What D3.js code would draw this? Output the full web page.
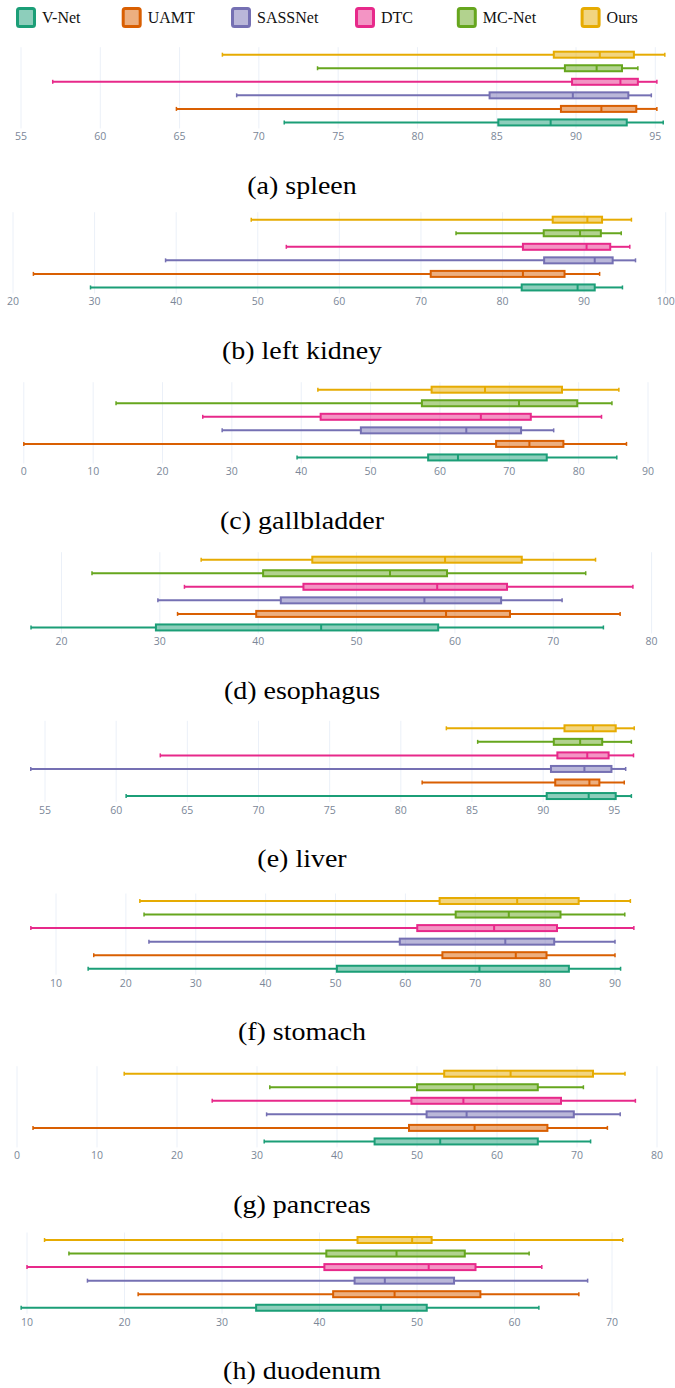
<!DOCTYPE html>
<meta charset="utf-8">
<script src="https://d3js.org/d3.v7.min.js"></script>
<style>
  body { margin: 0; background: #fff; }
  svg { display: block; }
</style>
<svg id="chart" width="675" height="1388"></svg>
<script>
// methods, bottom row first
var methods = ["V-Net", "UAMT", "SASSNet", "DTC", "MC-Net", "Ours"];
var colors = ["#1b9e77", "#d95f02", "#7570b3", "#e7298a", "#66a61e", "#e6ab02"];

var organs = ["spleen", "left kidney", "gallbladder", "esophagus", "liver", "stomach", "pancreas", "duodenum"];
var letters = ["a", "b", "c", "d", "e", "f", "g", "h"];

// [lower whisker, q1, median, q3, upper whisker] per method (V-Net .. Ours)
var spleen = [[71.6, 85.1, 88.4, 93.2, 95.5], [64.8, 89.05, 91.6, 93.8, 95.1], [68.6, 84.55, 89.8, 93.3, 94.75],
              [57.0, 89.75, 92.8, 93.9, 95.1], [73.7, 89.3, 91.3, 92.9, 93.9], [67.7, 88.6, 91.5, 93.65, 95.6]];
var leftKidney = [[29.5, 82.35, 89.2, 91.3, 94.7], [22.5, 71.2, 82.5, 87.6, 91.9], [38.7, 85.1, 91.3, 93.5, 96.3],
                  [53.5, 82.5, 90.3, 93.2, 95.6], [74.3, 85.05, 89.5, 92.05, 94.55], [49.2, 86.15, 90.4, 92.2, 95.8]];
var gallbladder = [[39.4, 58.3, 62.6, 75.4, 85.5], [0.0, 68.1, 72.9, 77.8, 86.9], [28.6, 48.6, 63.8, 71.7, 76.4],
                   [25.8, 42.8, 65.9, 73.1, 83.3], [13.3, 57.4, 71.4, 79.8, 84.8], [42.4, 58.8, 66.5, 77.6, 85.8]];
var esophagus = [[16.9, 29.6, 46.4, 58.3, 75.1], [31.8, 39.8, 59.1, 65.6, 76.8], [29.8, 42.3, 56.9, 64.7, 70.9],
                 [32.5, 44.6, 58.2, 65.3, 78.1], [23.1, 40.5, 53.4, 59.2, 73.3], [34.2, 45.5, 59.0, 66.8, 74.3]];
var liver = [[60.7, 90.25, 93.2, 95.1, 96.2], [81.5, 90.85, 93.25, 93.95, 95.7], [54.0, 90.55, 92.9, 94.8, 95.8],
             [63.1, 91.0, 93.1, 94.6, 96.35], [85.4, 90.75, 92.6, 94.15, 96.2], [83.2, 91.5, 93.5, 95.1, 96.4]];
var stomach = [[14.6, 50.2, 70.6, 83.4, 90.8], [15.4, 65.3, 75.8, 80.2, 90.0], [23.3, 59.2, 74.3, 81.3, 90.0],
               [6.4, 61.7, 72.7, 81.7, 92.7], [22.6, 67.2, 74.8, 82.2, 91.4], [22.0, 64.9, 76.0, 84.8, 92.2]];
var pancreas = [[30.9, 44.7, 52.9, 65.1, 71.7], [2.0, 49.0, 57.2, 66.3, 73.8], [31.2, 51.2, 56.2, 69.6, 75.4],
                [24.4, 49.3, 55.8, 68.0, 77.3], [31.6, 50.0, 57.1, 65.1, 70.8], [13.4, 53.4, 61.7, 72.0, 76.0]];
var duodenum = [[9.4, 33.5, 46.3, 51.0, 62.5], [21.4, 41.4, 47.7, 56.5, 66.6], [16.2, 43.6, 46.7, 53.8, 67.5],
                [10.0, 40.5, 51.2, 56.0, 62.8], [14.3, 40.7, 47.9, 54.9, 61.5], [11.8, 43.9, 49.5, 51.5, 71.1]];

var spleenTicks = [55, 60, 65, 70, 75, 80, 85, 90, 95];
var leftKidneyTicks = [20, 30, 40, 50, 60, 70, 80, 90, 100];
var gallbladderTicks = [0, 10, 20, 30, 40, 50, 60, 70, 80, 90];
var esophagusTicks = [20, 30, 40, 50, 60, 70, 80];
var liverTicks = [55, 60, 65, 70, 75, 80, 85, 90, 95];
var stomachTicks = [10, 20, 30, 40, 50, 60, 70, 80, 90];
var pancreasTicks = [0, 10, 20, 30, 40, 50, 60, 70, 80];
var duodenumTicks = [10, 20, 30, 40, 50, 60, 70];

var panelData = [spleen, leftKidney, gallbladder, esophagus, liver, stomach, pancreas, duodenum];
var panelTicks = [spleenTicks, leftKidneyTicks, gallbladderTicks, esophagusTicks, liverTicks, stomachTicks, pancreasTicks, duodenumTicks];

// layout: y of top row per panel, pixel span of first/last tick
var panelTop = [54.7, 219.7, 389.7, 559.7, 728.3, 901, 1073.7, 1240];
var axisPx = [[21, 655.3], [13, 665.7], [23.8, 648], [61.5, 651.6], [45, 614.3], [56, 615], [17, 657], [27, 612]];
var rowGap = 13.55;
var boxH = 6;

var svg = d3.select("#chart");

// legend
var legendX = [16, 121.7, 231, 355, 456.8, 580.6];
var legend = svg.append("g");
methods.forEach(function(m, i) {
  var g = legend.append("g").attr("transform", "translate(" + legendX[i] + ",7)");
  g.append("rect")
    .attr("x", 1.5).attr("y", 1.5)
    .attr("width", 17).attr("height", 18)
    .attr("rx", 2)
    .attr("fill", colors[i]).attr("fill-opacity", 0.5)
    .attr("stroke", colors[i]).attr("stroke-width", 3);
  g.append("text")
    .attr("x", 26).attr("y", 15.5)
    .attr("font-family", "Liberation Serif")
    .attr("font-size", 16)
    .attr("fill", "#111")
    .text(m);
});

panelData.forEach(function(data, p) {
  var top = panelTop[p];
  var ticks = panelTicks[p];
  var x = d3.scaleLinear()
    .domain([ticks[0], ticks[ticks.length - 1]])
    .range(axisPx[p]);
  var y = function(i) { return top + (methods.length - 1 - i) * rowGap; };

  var g = svg.append("g");

  // grid
  g.selectAll(".grid")
    .data(ticks)
    .enter()
    .append("line")
      .attr("x1", function(d) { return x(d); })
      .attr("x2", function(d) { return x(d); })
      .attr("y1", top - 7.5)
      .attr("y2", top + 5 * rowGap + 6)
      .attr("stroke", "#ebf0f8")
      .attr("stroke-width", 1);

  // tick labels
  g.selectAll(".tick")
    .data(ticks)
    .enter()
    .append("text")
      .attr("x", function(d) { return x(d); })
      .attr("y", top + 85.5)
      .attr("text-anchor", "middle")
      .attr("font-family", "Open Sans")
      .attr("font-size", 10.5)
      .attr("fill", "#7b8798")
      .text(function(d) { return d; });

  var rows = g.selectAll(".row")
    .data(data)
    .enter()
    .append("g")
      .attr("transform", function(d, i) { return "translate(0," + y(i) + ")"; });

  // whiskers
  rows.append("line")
    .attr("x1", function(d) { return x(d[0]); })
    .attr("x2", function(d) { return x(d[1]); })
    .attr("stroke", function(d, i) { return colors[i]; })
    .attr("stroke-width", 2);
  rows.append("line")
    .attr("x1", function(d) { return x(d[3]); })
    .attr("x2", function(d) { return x(d[4]); })
    .attr("stroke", function(d, i) { return colors[i]; })
    .attr("stroke-width", 2);
  // caps
  [0, 4].forEach(function(k) {
    rows.append("line")
      .attr("x1", function(d) { return x(d[k]); })
      .attr("x2", function(d) { return x(d[k]); })
      .attr("y1", -2).attr("y2", 2)
      .attr("stroke", function(d, i) { return colors[i]; })
      .attr("stroke-width", 1.5);
  });

  // box
  rows.append("rect")
    .attr("x", function(d) { return x(d[1]); })
    .attr("y", -boxH / 2)
    .attr("width", function(d) { return x(d[3]) - x(d[1]); })
    .attr("height", boxH)
    .attr("fill", function(d, i) { return colors[i]; })
    .attr("fill-opacity", 0.5)
    .attr("stroke", function(d, i) { return colors[i]; })
    .attr("stroke-width", 2);

  // median
  rows.append("line")
    .attr("x1", function(d) { return x(d[2]); })
    .attr("x2", function(d) { return x(d[2]); })
    .attr("y1", -boxH / 2).attr("y2", boxH / 2)
    .attr("stroke", function(d, i) { return colors[i]; })
    .attr("stroke-width", 2);

  // caption (stretched a little to match the wider LaTeX face)
  g.append("text")
    .attr("transform", "translate(302," + (top + 139) + ") scale(1.12,1)")
    .attr("text-anchor", "middle")
    .attr("font-family", "Liberation Serif")
    .attr("font-size", 25)
    .attr("fill", "#000")
    .text("(" + letters[p] + ") " + organs[p]);
});
</script>
